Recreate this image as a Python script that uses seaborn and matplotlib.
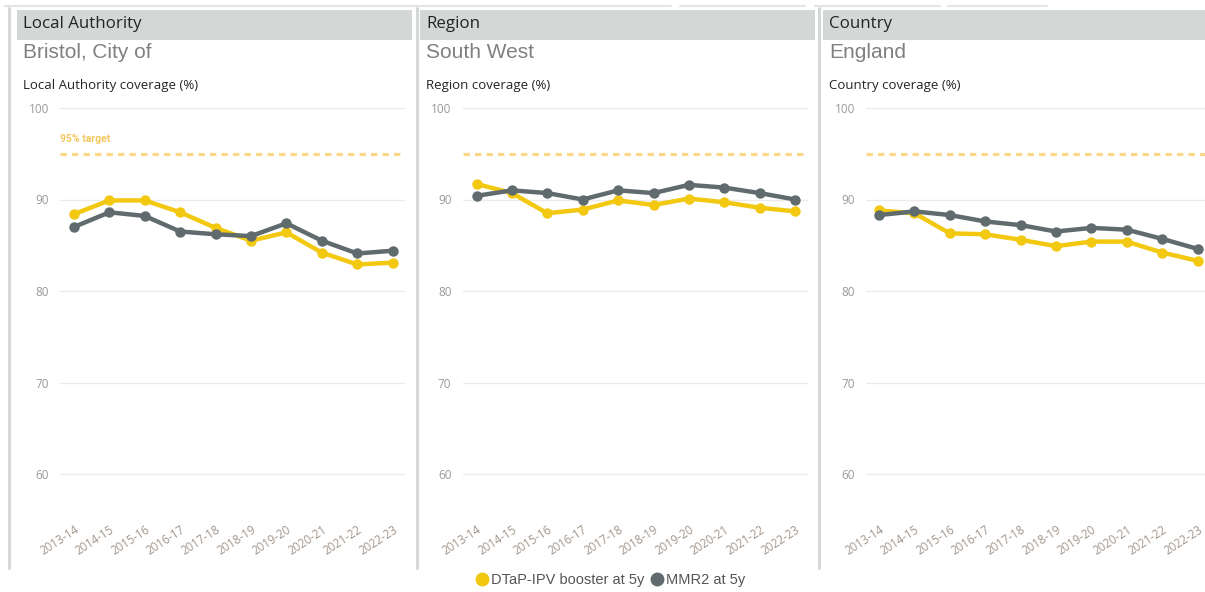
import numpy as np
import pandas as pd
import matplotlib
matplotlib.use('Agg')
import matplotlib.pyplot as plt
from matplotlib.lines import Line2D
from matplotlib.patches import Rectangle
import seaborn as sns

# Данные
years = ['2013-14', '2014-15', '2015-16', '2016-17', '2017-18',
         '2018-19', '2019-20', '2020-21', '2021-22', '2022-23']
headers = ['Local Authority', 'Region', 'Country']
areas = ['Bristol, City of', 'South West', 'England']
dtap_la = [88.4, 89.9, 89.9, 88.6, 86.9, 85.5, 86.4, 84.2, 82.9, 83.1]
mmr2_la = [87.0, 88.6, 88.2, 86.5, 86.2, 86.0, 87.4, 85.5, 84.1, 84.4]
dtap_region = [91.7, 90.7, 88.5, 88.9, 89.9, 89.4, 90.1, 89.7, 89.1, 88.7]
mmr2_region = [90.4, 91.0, 90.7, 90.0, 91.0, 90.7, 91.6, 91.3, 90.7, 90.0]
dtap_country = [88.8, 88.5, 86.3, 86.2, 85.6, 84.9, 85.4, 85.4, 84.2, 83.3]
mmr2_country = [88.3, 88.7, 88.3, 87.6, 87.2, 86.5, 86.9, 86.7, 85.7, 84.6]
series_names = ['DTaP-IPV booster at 5y', 'MMR2 at 5y']
target = 95

dtap_all = [dtap_la, dtap_region, dtap_country]
mmr2_all = [mmr2_la, mmr2_region, mmr2_country]

YELLOW = '#F2C811'
GREY = '#5F6B6D'
palette = {series_names[0]: YELLOW, series_names[1]: GREY}

sns.set_style('white')
plt.rcParams['font.family'] = ['Open Sans', 'DejaVu Sans']

W, H = 1205, 592
fig = plt.figure(figsize=(W / 100, H / 100), dpi=100)

def fx(px):
    return px / W

def fy(py):
    return 1 - py / H

# Рамки и заголовки панелей
for x in [9, 416.5, 819]:
    fig.add_artist(Line2D([fx(x), fx(x)], [fy(8), fy(568)], color='#d5d8d8', lw=2.2))
for x0, x1 in [(5, 671), (680, 805), (815, 940), (948, 1047)]:
    fig.add_artist(Line2D([fx(x0), fx(x1)], [fy(6), fy(6)], color='#e2e5e5', lw=1.5))

bar_x = [(17, 412), (420, 815), (823, 1205)]
step = 35.4
first_pt = [74, 476.5, 879]
ax_left = [60, 462.5, 866]
ax_right = [405, 808, 1205]
ylo, yhi = 56, 101
py100, py60 = 108, 474
ppu = (py60 - py100) / 40
top_px = py100 - (yhi - 100) * ppu
bot_px = py60 + (60 - ylo) * ppu

for i in range(3):
    b0, b1 = bar_x[i]
    fig.add_artist(Rectangle((fx(b0), fy(40)), fx(b1 - b0), (40 - 10) / H,
                             facecolor='#d3d7d6', edgecolor='none'))
    fig.text(fx(b0 + 6), fy(24), headers[i], fontsize=12.2, color='#252423', va='center')
    fig.text(fx(b0 + 6), fy(52), areas[i], fontsize=15, color='#808080', va='center',
             family=['Liberation Sans', 'DejaVu Sans'])
    fig.text(fx(b0 + 6), fy(85), headers[i] + ' coverage (%)', fontsize=9.5,
             color='#252423', va='center')

    ax = fig.add_axes([fx(ax_left[i]), fy(bot_px), fx(ax_right[i] - ax_left[i]),
                       (bot_px - top_px) / H])
    df = pd.DataFrame({
        'year': list(range(len(years))) * 2,
        'value': dtap_all[i] + mmr2_all[i],
        'series': [series_names[0]] * len(years) + [series_names[1]] * len(years),
    })
    # DTaP снизу, MMR2 сверху
    for name in series_names:
        sns.lineplot(data=df[df['series'] == name], x='year', y='value', color=palette[name],
                     marker='o', markersize=7.5, markeredgewidth=0, linewidth=3.2, ax=ax,
                     legend=False)
    ax.axhline(target, color='#FCD78A', lw=2.3, dashes=(2, 1.6), zorder=0)
    if i == 0:
        ax.text(0, target + 1.1, '95% target', color='#F6C75F', fontsize=7.5,
                fontweight='bold', family=['Roboto', 'DejaVu Sans'], va='bottom', ha='left',
                transform=ax.get_yaxis_transform())
    x_lo = -(first_pt[i] - ax_left[i]) / step
    x_hi = x_lo + (ax_right[i] - ax_left[i]) / step
    ax.set_xlim(x_lo, x_hi)
    ax.set_ylim(ylo, yhi)
    ax.set_yticks([60, 70, 80, 90, 100])
    ax.set_xticks(range(len(years)))
    ax.set_xticklabels(years, rotation=33, ha='right', rotation_mode='anchor')
    ax.grid(axis='y', color='#ebebeb', lw=1)
    ax.tick_params(axis='y', length=0, pad=8, labelsize=8.5, labelcolor='#999999')
    ax.tick_params(axis='x', length=0, pad=9, labelsize=8.3, labelcolor='#a1958a')
    ax.set_xlabel('')
    ax.set_ylabel('')
    for s in ax.spines.values():
        s.set_visible(False)
    ax.patch.set_alpha(0)

handles = [Line2D([], [], marker='o', linestyle='', color=YELLOW, markersize=9),
           Line2D([], [], marker='o', linestyle='', color=GREY, markersize=9)]
leg = fig.legend(handles, series_names, loc='center', bbox_to_anchor=(fx(610), fy(580)),
                 ncol=2, frameon=False, handletextpad=0.15, columnspacing=0.3,
                 prop={'family': ['Liberation Sans', 'DejaVu Sans'], 'size': 10.5},
                 handlelength=1.0, borderpad=0)
for t in leg.get_texts():
    t.set_color('#555555')

fig.savefig('out.png', dpi=100, facecolor='white')
